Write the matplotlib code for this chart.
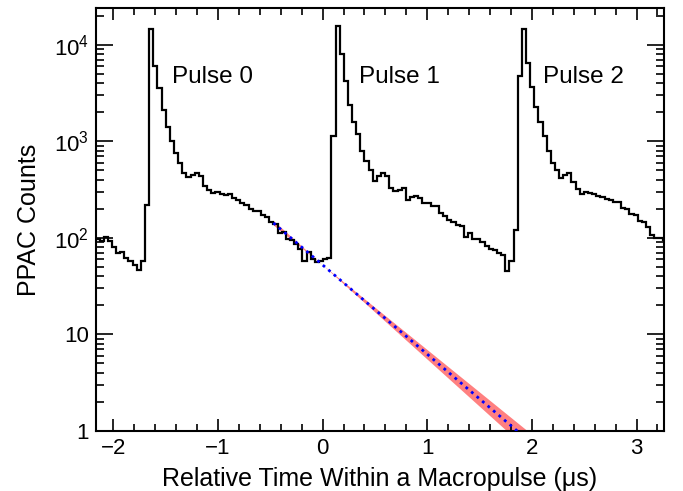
import numpy as np
import matplotlib
matplotlib.use("Agg")
import matplotlib.pyplot as plt
from matplotlib.ticker import MultipleLocator, FixedLocator, FixedFormatter, LogLocator, NullFormatter

plt.rcParams["font.family"] = ["Liberation Sans", "DejaVu Sans"]
plt.rcParams["mathtext.fontset"] = "custom"
plt.rcParams["mathtext.rm"] = "Liberation Sans"
plt.rcParams["mathtext.it"] = "Liberation Sans:italic"

# histogram binning (us) and PPAC counts per bin
t_first_edge = -2.171
bin_width = 0.03956
counts = [
    97, 92, 101, 93, 80, 70, 72, 62, 57, 52,
    46, 58, 217, 14800, 6000, 3600, 2100, 1400, 1000, 760,
    600, 470, 425, 445, 470, 440, 345, 315, 295, 300,
    285, 278, 282, 258, 248, 232, 220, 200, 188, 192,
    172, 165, 146, 140, 112, 116, 98, 94, 86, 76,
    58, 71, 60, 56, 57, 61, 62, 1150, 15900, 8000,
    4200, 2400, 1600, 1200, 800, 620, 500, 385, 435, 465,
    440, 325, 305, 312, 328, 245, 265, 272, 258, 232,
    230, 215, 212, 182, 170, 152, 147, 135, 132, 102,
    112, 98, 97, 90, 83, 76, 75, 70, 66, 45,
    57, 120, 4800, 14800, 6500, 3700, 2300, 1600, 1150, 800,
    600, 500, 420, 445, 465, 378, 322, 288, 302, 292,
    287, 272, 268, 252, 247, 238, 234, 206, 198, 176,
    174, 148, 147, 128, 106, 99, 100, 94,
]

# exponential fit of the tail before pulse 1
fit_amp = 52.4      # counts at t = 0
fit_tau = 0.469     # us
fit_tau_err = 0.025
fit_start = -0.47
fit_stop = 2.1

pulse_names = ["Pulse 0", "Pulse 1", "Pulse 2"]
pulse_label_t = [-1.05, 0.73, 2.49]

edges = t_first_edge + bin_width * np.arange(len(counts) + 1)

fig = plt.figure(figsize=(6.83, 4.91), dpi=100)
ax = fig.add_axes([0.1401, 0.1228, 0.8325, 0.8603])

tf = np.linspace(fit_start, fit_stop, 200)
band_hi = fit_amp * np.exp(-tf / (fit_tau + fit_tau_err))
band_lo = fit_amp * np.exp(-tf / (fit_tau - fit_tau_err))
lo = np.minimum(band_hi, band_lo)
hi = np.maximum(band_hi, band_lo)
ax.fill_between(tf, lo, hi, color="#ff8080", lw=0, zorder=1)

ax.stairs(counts, edges, baseline=None, color="black", lw=1.6, zorder=2)

ax.plot(tf, fit_amp * np.exp(-tf / fit_tau), color="#0000ff", lw=2.0,
        linestyle=(0, (1.0, 1.6)), zorder=3)

for name, t in zip(pulse_names, pulse_label_t):
    ax.text(t, 4700, name, fontsize=17.5, ha="center", va="center")

ax.set_yscale("log")
ax.set_xlim(-2.168, 3.265)
ax.set_ylim(1, 2.4e4)

ax.xaxis.set_major_locator(MultipleLocator(1))
ax.xaxis.set_minor_locator(MultipleLocator(0.2))
ax.yaxis.set_major_locator(FixedLocator([1, 10, 100, 1000, 10000]))
ax.yaxis.set_major_formatter(FixedFormatter(["1", "10", "$10^{2}$", "$10^{3}$", "$10^{4}$"]))
ax.yaxis.set_minor_locator(LogLocator(base=10, subs=np.arange(2, 10)))
ax.yaxis.set_minor_formatter(NullFormatter())

ax.tick_params(which="both", direction="in", top=True, right=True, width=1.2, labelsize=16)
ax.tick_params(axis="x", which="major", length=8.6, pad=5)
ax.tick_params(axis="x", which="minor", length=4.8)
ax.tick_params(axis="y", which="major", length=12, pad=5)
ax.tick_params(axis="y", which="minor", length=6.1)
for sp in ax.spines.values():
    sp.set_linewidth(1.5)

ax.set_xlabel("Relative Time Within a Macropulse (\u03bcs)", fontsize=18, labelpad=6)
ax.set_ylabel("PPAC Counts", fontsize=18, labelpad=9)

fig.savefig("out.png", dpi=100)
